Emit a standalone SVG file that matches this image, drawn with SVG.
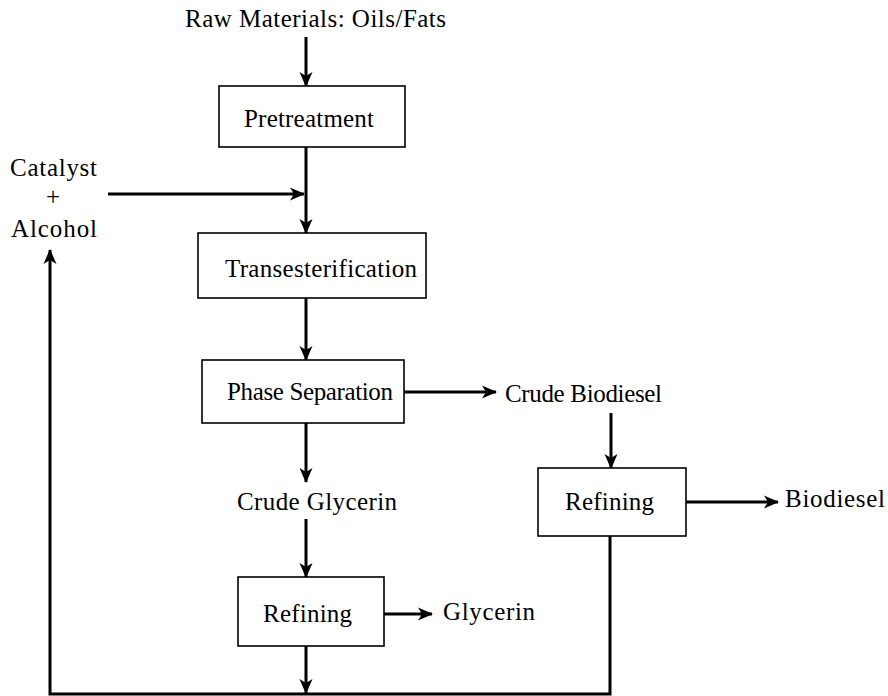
<svg xmlns="http://www.w3.org/2000/svg" width="888" height="696" viewBox="0 0 888 696">
<style>
text{font-family:"Liberation Serif","Times New Roman",serif;font-size:25px;fill:#000}
.box{fill:#fff;stroke:#000;stroke-width:1.6}
.c{fill:none;stroke:#000;stroke-width:3}
</style>
<defs>
<marker id="ah" markerUnits="userSpaceOnUse" markerWidth="15" markerHeight="15" viewBox="0 0 15 15" refX="14" refY="7.5" orient="auto">
<path d="M0,1 L15,7.5 L0,14 L4,7.5 z" fill="#000"/>
</marker>
</defs>
<rect width="888" height="696" fill="#fff"/>
<g id="connectors">
<line class="c" x1="306" y1="37" x2="306" y2="86" marker-end="url(#ah)"/>
<line class="c" x1="306" y1="147" x2="306" y2="233" marker-end="url(#ah)"/>
<line class="c" x1="108" y1="194" x2="304" y2="194" marker-end="url(#ah)"/>
<line class="c" x1="306" y1="298" x2="306" y2="360" marker-end="url(#ah)"/>
<line class="c" x1="404" y1="392" x2="496" y2="392" marker-end="url(#ah)"/>
<line class="c" x1="611" y1="413" x2="611" y2="468" marker-end="url(#ah)"/>
<line class="c" x1="686" y1="502" x2="778" y2="502" marker-end="url(#ah)"/>
<line class="c" x1="306" y1="423" x2="306" y2="482" marker-end="url(#ah)"/>
<line class="c" x1="306" y1="519" x2="306" y2="577" marker-end="url(#ah)"/>
<line class="c" x1="384" y1="614" x2="432" y2="614" marker-end="url(#ah)" stroke-width="4"/>
<line class="c" x1="306" y1="646" x2="306" y2="693" marker-end="url(#ah)"/>
<polyline class="c" points="610,536 610,694 50,694 50,250" marker-end="url(#ah)"/>
</g>
<g id="raw"><text x="185" y="27" textLength="261" lengthAdjust="spacing">Raw Materials: Oils/Fats</text></g>
<g id="pretreatment"><rect class="box" x="219" y="86" width="186" height="61"/><text x="244" y="127" textLength="130" lengthAdjust="spacing">Pretreatment</text></g>
<g id="catalyst"><text x="10" y="176" textLength="87" lengthAdjust="spacing">Catalyst</text><text x="53" y="205" text-anchor="middle">+</text><text x="11" y="237" textLength="86" lengthAdjust="spacing">Alcohol</text></g>
<g id="transesterification"><rect class="box" x="198" y="233" width="228" height="65"/><text x="225" y="277" textLength="192" lengthAdjust="spacing">Transesterification</text></g>
<g id="phase"><rect class="box" x="202" y="360" width="202" height="63"/><text x="227" y="400" textLength="166" lengthAdjust="spacing">Phase Separation</text></g>
<g id="crudebiodiesel"><text x="505" y="402" textLength="157" lengthAdjust="spacing">Crude Biodiesel</text></g>
<g id="refining2"><rect class="box" x="538" y="468" width="148" height="68"/><text x="565" y="510" textLength="89" lengthAdjust="spacing">Refining</text></g>
<g id="biodiesel"><text x="785" y="507" textLength="100" lengthAdjust="spacing">Biodiesel</text></g>
<g id="crudeglycerin"><text x="237" y="510" textLength="160" lengthAdjust="spacing">Crude Glycerin</text></g>
<g id="refining1"><rect class="box" x="238" y="577" width="146" height="69"/><text x="263" y="622" textLength="89" lengthAdjust="spacing">Refining</text></g>
<g id="glycerin"><text x="443" y="620" textLength="92" lengthAdjust="spacing">Glycerin</text></g>
</svg>
